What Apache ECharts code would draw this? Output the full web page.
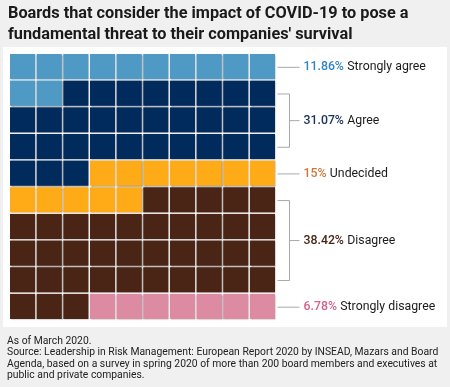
<!DOCTYPE html>
<html><head><meta charset="utf-8">
<script src="https://cdn.jsdelivr.net/npm/echarts@6/dist/echarts.min.js"></script>
<style>html,body{margin:0;padding:0;background:#f0f0f0}#c{width:450px;height:387px}</style>
</head><body><div id="c"></div>
<script>
const categories = ['Strongly agree', 'Agree', 'Undecided', 'Disagree', 'Strongly disagree'];
const percentages = ['11.86%', '31.07%', '15%', '38.42%', '6.78%'];
const cellCounts = [12, 31, 12, 38, 7];
const bracketStartRow = [0, 1, 4, 5, 9];
const bracketEndRow = [0, 3, 4, 8, 9];
const cellColors = ['#4f9ac4', '#002b5c', '#ffab18', '#4a2515', '#dd8aa3'];
const labelColors = ['#2f85c0', '#1b3461', '#c8783a', '#4a2515', '#d6608a'];
const columns = 10, rows = 10;

const cells = [];
let idx = 0;
cellCounts.forEach((n, k) => {
  for (let i = 0; i < n; i++) {
    cells.push([idx % columns, Math.floor(idx / columns), k]);
    idx++;
  }
});
const labelData = categories.map((c, k) => [bracketStartRow[k], bracketEndRow[k], k]);

const FONT = 'Roboto, "Noto Sans", sans-serif';
const chart = echarts.init(document.getElementById('c'), null, {renderer: 'canvas'});

function renderCell(params, api) {
  const c = api.value(0), r = api.value(1), k = api.value(2);
  const p0 = api.coord([c, r]), p1 = api.coord([c + 1, r + 1]);
  const x = Math.min(p0[0], p1[0]), y = Math.min(p0[1], p1[1]);
  const w = Math.abs(p1[0] - p0[0]), h = Math.abs(p1[1] - p0[1]);
  return {
    type: 'rect',
    shape: {x: x, y: y, width: w - 1.5, height: h - 1.5},
    style: {fill: cellColors[k], shadowColor: 'rgba(0,0,0,0.4)', shadowBlur: 1.5, shadowOffsetX: 0.8, shadowOffsetY: 0.8}
  };
}

function renderLabel(params, api) {
  const s = api.value(0), e = api.value(1), k = api.value(2);
  const gx = api.coord([columns, 0])[0];
  const yTop = api.coord([columns, s + 0.5])[1];
  const yBot = api.coord([columns, e + 0.5])[1];
  const mid = (yTop + yBot) / 2;
  const lineStyle = {stroke: '#a8a8a8', lineWidth: 1, fill: null};
  const children = [];
  if (s === e) {
    children.push({type: 'line', shape: {x1: gx + 1, y1: mid, x2: gx + 23, y2: mid}, style: lineStyle});
  } else {
    children.push({type: 'polyline', shape: {points: [[gx + 1, yTop], [gx + 13, yTop], [gx + 13, yBot], [gx + 1, yBot]]}, style: lineStyle});
    children.push({type: 'line', shape: {x1: gx + 13, y1: mid, x2: gx + 23, y2: mid}, style: lineStyle});
  }
  children.push({
    type: 'text', x: gx + 27, y: mid,
    style: {
      text: '{p|' + percentages[k] + '} {l|' + categories[k] + '}',
      verticalAlign: 'middle', align: 'left',
      rich: {
        p: {fill: labelColors[k], font: '500 12.3px ' + FONT},
        l: {fill: '#1a1a1a', font: '12.3px ' + FONT}
      }
    }
  });
  return {type: 'group', children: children};
}

chart.setOption({
  animation: false,
  backgroundColor: '#f0f0f0',
  grid: {left: 10, top: 54, width: 266.5, height: 266.5},
  xAxis: {type: 'value', min: 0, max: columns, show: false},
  yAxis: {type: 'value', min: 0, max: rows, inverse: true, show: false},
  graphic: [
    {type: 'rect', z: -100, shape: {x: 3, y: 47, width: 444, height: 280}, style: {fill: '#ffffff'}},
    {type: 'text', left: 8, top: 4, style: {
      text: 'Boards that consider the impact of COVID-19 to pose a\nfundamental threat to their companies\' survival',
      font: 'bold 16.3px ' + FONT, lineHeight: 20.5, fill: '#1a1a1a'}},
    {type: 'text', left: 7, top: 336, style: {
      text: 'As of March 2020.\nSource: Leadership in Risk Management: European Report 2020 by INSEAD, Mazars and Board\nAgenda, based on a survey in spring 2020 of more than 200 board members and executives at\npublic and private companies.',
      font: '10.35px ' + FONT, lineHeight: 11.2, fill: '#222222'}}
  ],
  series: [
    {type: 'custom', silent: true, renderItem: renderCell, data: cells, encode: {x: 0, y: 1}},
    {type: 'custom', silent: true, renderItem: renderLabel, data: labelData, encode: {x: [], y: [0, 1]}}
  ]
});
</script></body></html>
